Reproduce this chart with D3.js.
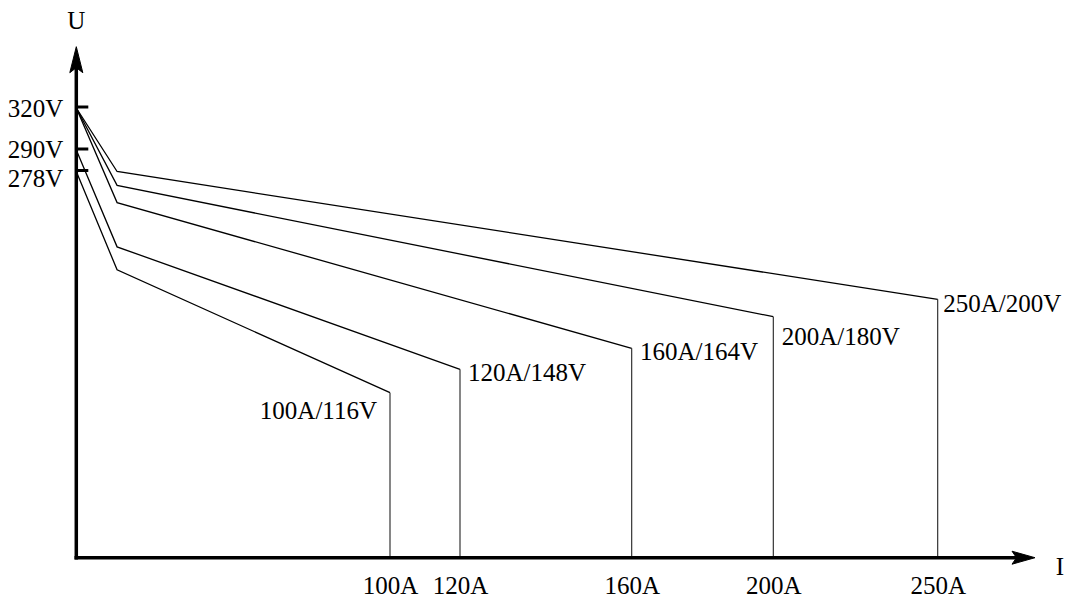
<!DOCTYPE html>
<html>
<head>
<meta charset="utf-8">
<script src="https://cdn.jsdelivr.net/npm/d3@7/dist/d3.min.js"></script>
<style>
  html, body { margin: 0; padding: 0; background: #fff; }
  svg { display: block; }
</style>
</head>
<body>
<svg id="chart" width="1069" height="600"></svg>
<script>
// ---- data ----
const currents = [100, 120, 160, 200, 250];        // rated current of each curve (A)
const endVoltages = [116, 148, 164, 180, 200];     // voltage at rated current (V)
const startVoltages = [278, 290, 320, 320, 320];   // no-load voltage (V)
const kneeVoltages = [218, 232, 259, 269.5, 278];  // voltage at knee point (V)
const kneeCurrent = 13;                            // current at knee point (A)
const voltageTicks = [320, 290, 278];
const currentTicks = [100, 120, 160, 200, 250];
const axisLabelU = "U";
const axisLabelI = "I";

// ---- font pick (serif) ----
function pickFont(cands) {
  const cv = document.createElement("canvas").getContext("2d");
  const probe = "320V 100A/116V Ilm";
  for (const f of cands) {
    let ok = false;
    for (const base of ["monospace", "sans-serif"]) {
      cv.font = `25px ${base}`; const w0 = cv.measureText(probe).width;
      cv.font = `25px "${f}", ${base}`; const w1 = cv.measureText(probe).width;
      if (Math.abs(w0 - w1) > 0.5) ok = true;
    }
    if (ok) return `"${f}", serif`;
  }
  return "serif";
}
const FONT = pickFont(["Liberation Serif", "Times New Roman", "Tinos", "Times", "Nimbus Roman", "DejaVu Serif", "Noto Serif"]);

// ---- layout ----
const svg = d3.select("#chart");
// schematic (non-proportional) axes: piecewise-linear scales
const x = d3.scaleLinear()
  .domain([0, 100, 120, 160, 200, 250])
  .range([76.3, 390, 460, 631.7, 773.3, 937.7]);
const y = d3.scaleLinear()
  .domain([0, 116, 148, 164, 180, 200, 278, 290, 320])
  .range([557.7, 392.7, 369.3, 348.3, 316.7, 299.3, 171.5, 150, 108]);

const labelLayout = [
  { anchor: "end", dx: -13, dy: 26 },
  { anchor: "start", dx: 8, dy: 12 },
  { anchor: "start", dx: 8.3, dy: 12 },
  { anchor: "start", dx: 8.4, dy: 28.5 },
  { anchor: "start", dx: 5.6, dy: 12.5 }
];

// ---- curves ----
const curves = currents.map((c, i) => ({
  pts: [
    [0, startVoltages[i]],
    [kneeCurrent, kneeVoltages[i]],
    [c, endVoltages[i]]
  ],
  c, v: endVoltages[i], i
}));

const line = d3.line().x(d => x(d[0])).y(d => y(d[1]));

svg.append("g").selectAll("path.curve")
  .data(curves).join("path")
  .attr("class", "curve")
  .attr("d", d => line(d.pts))
  .attr("fill", "none")
  .attr("stroke", "#000")
  .attr("stroke-width", 1.3)
  .attr("stroke-linejoin", "miter");

svg.append("g").selectAll("line.drop")
  .data(curves).join("line")
  .attr("class", "drop")
  .attr("x1", d => x(d.c)).attr("x2", d => x(d.c))
  .attr("y1", d => y(d.v)).attr("y2", y(0))
  .attr("stroke", "#222")
  .attr("stroke-width", 1.1);

const txt = sel => sel.attr("font-family", FONT).attr("font-size", 25).attr("fill", "#000");

svg.append("g").selectAll("text.pt")
  .data(curves).join("text")
  .attr("class", "pt")
  .attr("x", d => x(d.c) + labelLayout[d.i].dx)
  .attr("y", d => y(d.v) + labelLayout[d.i].dy)
  .attr("text-anchor", d => labelLayout[d.i].anchor)
  .call(txt)
  .text(d => `${d.c}A/${d.v}V`);

// ---- axes ----
const x0 = x(0), y0 = y(0);
const yTop = 46.7, xRight = 1035;

// y axis
svg.append("line")
  .attr("x1", x0).attr("x2", x0)
  .attr("y1", y0 + 1.8).attr("y2", yTop + 20)
  .attr("stroke", "#000").attr("stroke-width", 3.5);
svg.append("path")
  .attr("d", `M${x0},${yTop} L${x0 - 6.5},${yTop + 26} L${x0},${yTop + 21} L${x0 + 6.5},${yTop + 26} Z`)
  .attr("fill", "#000").attr("stroke", "#000").attr("stroke-width", 1);

// x axis
svg.append("line")
  .attr("x1", x0 - 1.8).attr("x2", xRight - 18)
  .attr("y1", y0).attr("y2", y0)
  .attr("stroke", "#000").attr("stroke-width", 3.5);
svg.append("path")
  .attr("d", `M${xRight},${y0} L${xRight - 23},${y0 - 6.5} L${xRight - 18.5},${y0} L${xRight - 23},${y0 + 6.5} Z`)
  .attr("fill", "#000").attr("stroke", "#000").attr("stroke-width", 1);

// y ticks
const yAxis = d3.axisLeft(y)
  .tickValues(voltageTicks)
  .tickSizeInner(-12)
  .tickSizeOuter(0)
  .tickPadding(13)
  .tickFormat(d => d + "V");
const gy = svg.append("g").attr("transform", `translate(${x0},0)`).call(yAxis)
  .attr("font-family", FONT).attr("font-size", 25);
gy.select(".domain").remove();
gy.selectAll(".tick line").attr("stroke", "#000").attr("stroke-width", 3)
  .attr("transform", "translate(0,-1.5)");
gy.selectAll(".tick text")
  .call(txt)
  .attr("dy", d => d === 278 ? "0.58em" : (d === 290 ? "0.3em" : "0.32em"));

// x tick labels
const xAxis = d3.axisBottom(x)
  .tickValues(currentTicks)
  .tickSize(0)
  .tickFormat(d => d + "A");
const gx = svg.append("g").attr("transform", `translate(0,${y0})`).call(xAxis)
  .attr("font-family", FONT).attr("font-size", 25);
gx.select(".domain").remove();
gx.selectAll(".tick text")
  .call(txt)
  .attr("dy", null).attr("y", 36);

// axis titles
svg.append("text").attr("x", x0).attr("y", 29)
  .attr("text-anchor", "middle").call(txt).text(axisLabelU);
svg.append("text").attr("x", 1060).attr("y", 575)
  .attr("text-anchor", "middle").call(txt).text(axisLabelI);
</script>
</body>
</html>
